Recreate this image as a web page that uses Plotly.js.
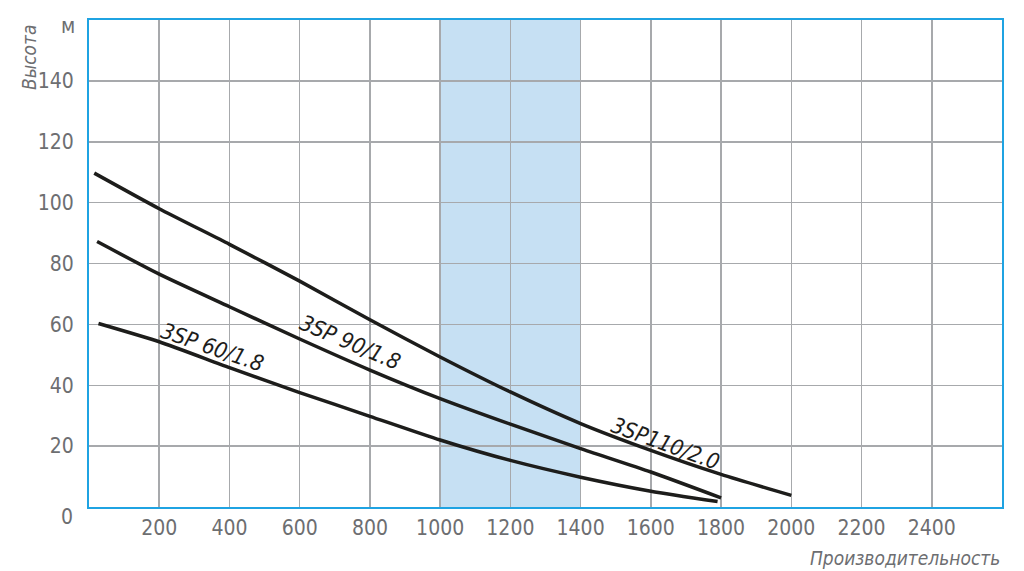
<!DOCTYPE html>
<html>
<head>
<meta charset="utf-8">
<script src="https://cdn.plot.ly/plotly-3.0.1.min.js"></script>
<style>
  html, body { margin: 0; padding: 0; background: #fff; }
  #graph { width: 1024px; height: 571px; }
</style>
</head>
<body>
<div id="graph"></div>
<script>
// pump curves
var q110 = [15, 200, 400, 600, 800, 1000, 1200, 1400, 1600, 1800, 2000];
var h110 = [109.7, 98, 86.3, 74.2, 61.5, 49.3, 37.8, 27.4, 18.6, 10.7, 3.8];

var q90 = [23, 200, 400, 600, 800, 1000, 1200, 1400, 1600, 1800];
var h90 = [87.2, 76.5, 65.8, 55.2, 45.0, 35.6, 27.2, 19.2, 11.5, 3.0];

var q60 = [27, 200, 400, 600, 800, 1000, 1200, 1400, 1600, 1790];
var h60 = [60.3, 54.3, 45.8, 37.6, 29.8, 22.0, 15.3, 9.8, 5.2, 1.8];

var xTicks = [200, 400, 600, 800, 1000, 1200, 1400, 1600, 1800, 2000, 2200, 2400];
var yTicks = [20, 40, 60, 80, 100, 120, 140];

var bandFrom = 1000;
var bandTo = 1400;

var fontNarrow = 'DejaVu Sans Condensed, sans-serif';
var lineColor = '#1d1d1b';
var greyText = '#6d6e71';

function curve(x, y, name) {
    return {
        x: x,
        y: y,
        mode: 'lines',
        name: name,
        line: { color: lineColor, width: 3.5, shape: 'spline', smoothing: 0.6 },
        hoverinfo: 'x+y'
    };
}

var graphData = [
    curve(q110, h110, '3SP110/2.0'),
    curve(q90, h90, '3SP 90/1.8'),
    curve(q60, h60, '3SP 60/1.8')
];

function curveLabel(text, x, y, angle) {
    return {
        x: x, y: y, xref: 'x', yref: 'y',
        text: '<i>' + text + '</i>',
        textangle: angle,
        showarrow: false,
        font: { family: fontNarrow, size: 22, color: '#1d1d1b' }
    };
}

var layout = {
    width: 1024,
    height: 571,
    margin: { l: 89, r: 22, t: 20, b: 64 },
    paper_bgcolor: '#ffffff',
    plot_bgcolor: '#ffffff',
    showlegend: false,
    xaxis: {
        range: [0, 2600],
        tickvals: xTicks,
        showgrid: true,
        gridcolor: '#a7a9ac',
        gridwidth: 1.5,
        zeroline: false,
        showline: true,
        mirror: true,
        linecolor: '#1fa3e2',
        linewidth: 2,
        ticks: '',
        ticklabelstandoff: 1,
        tickfont: { family: fontNarrow, size: 21, color: greyText },
        fixedrange: true
    },
    yaxis: {
        range: [0, 160],
        tickvals: yTicks,
        showgrid: true,
        gridcolor: '#a7a9ac',
        gridwidth: 1.5,
        zeroline: false,
        showline: true,
        mirror: true,
        linecolor: '#1fa3e2',
        linewidth: 2,
        ticks: '',
        ticklabelstandoff: 9,
        tickfont: { family: fontNarrow, size: 21, color: greyText },
        fixedrange: true
    },
    shapes: [{
        type: 'rect',
        xref: 'x', yref: 'paper',
        x0: bandFrom, x1: bandTo, y0: 0, y1: 1,
        fillcolor: '#c6e0f3',
        line: { width: 0 },
        layer: 'below'
    }],
    annotations: [
        curveLabel('3SP 60/1.8', 353, 52.5, 19),
        curveLabel('3SP 90/1.8', 745, 54.2, 23),
        curveLabel('3SP110/2.0', 1641, 20.9, 20),
        {
            x: 0, y: 0, xref: 'paper', yref: 'paper',
            xanchor: 'right', yanchor: 'middle',
            xshift: -14, yshift: -10,
            text: '0', showarrow: false,
            font: { family: fontNarrow, size: 21, color: greyText }
        },
        {
            x: 0, y: 1, xref: 'paper', yref: 'paper',
            xanchor: 'right', yanchor: 'middle',
            xshift: -12, yshift: -6,
            text: 'м', showarrow: false,
            font: { family: fontNarrow, size: 21, color: greyText }
        },
        {
            // y axis title sits at the top left, rotated
            x: 0, y: 1, xref: 'paper', yref: 'paper',
            xanchor: 'center', yanchor: 'middle',
            xshift: -60, yshift: -37,
            textangle: -90,
            text: '<i>Высота</i>', showarrow: false,
            font: { family: fontNarrow, size: 19, color: greyText }
        },
        {
            x: 1, y: 0, xref: 'paper', yref: 'paper',
            xanchor: 'right', yanchor: 'middle',
            yshift: -51,
            text: '<i>Производительность</i>', showarrow: false,
            font: { family: fontNarrow, size: 19, color: greyText }
        }
    ]
};

Plotly.newPlot('graph', graphData, layout, { displayModeBar: false, staticPlot: true });
</script>
</body>
</html>
